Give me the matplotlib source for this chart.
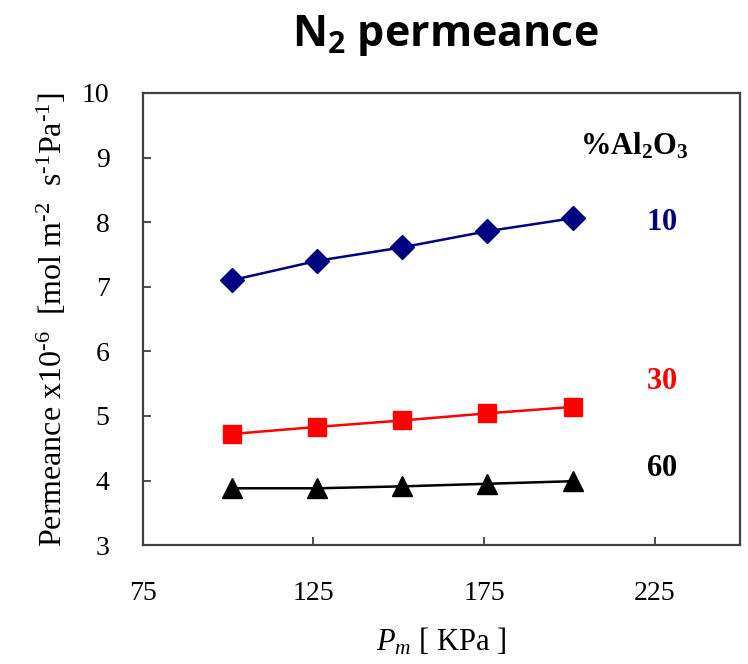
import matplotlib
matplotlib.use("Agg")
import matplotlib.pyplot as plt

plt.rcParams['font.family'] = ['Liberation Serif', 'DejaVu Serif']
plt.rcParams['mathtext.fontset'] = 'custom'
plt.rcParams['mathtext.rm'] = 'Liberation Serif'
plt.rcParams['mathtext.it'] = 'Liberation Serif:italic'
plt.rcParams['mathtext.bf'] = 'Liberation Serif:bold'
plt.rcParams['mathtext.sf'] = 'Open Sans:bold'

pressure = [101, 126, 151, 176, 201]
al10 = [7.10, 7.40, 7.61, 7.86, 8.06]
al30 = [4.72, 4.83, 4.93, 5.04, 5.14]
al60 = [3.88, 3.88, 3.91, 3.95, 3.99]
series_labels = ['10', '30', '60']
xticks = [75, 125, 175, 225]
yticks = [3, 4, 5, 6, 7, 8, 9, 10]

fig = plt.figure(figsize=(7.48, 6.64), dpi=100)
ax = fig.add_axes([0.191, 0.179, 0.798, 0.681])

ax.plot(pressure, al10, color='#000080', marker='D', ms=12, lw=1.8)
ax.plot(pressure, al30, color='#FF0000', marker='s', ms=13.5, lw=1.8)
ax.plot(pressure, al60, color='black', marker='^', ms=14, lw=1.8)

ax.set_xlim(75, 250)
ax.set_ylim(3, 10)
ax.set_xticks(xticks)
ax.set_yticks(yticks)
ax.tick_params(direction='in', length=6, width=1.3, color='#404040', labelsize=20)
ax.tick_params(axis='x', pad=26)
ax.tick_params(axis='y', pad=24)
for s in ax.spines.values():
    s.set_color('#404040')
    s.set_linewidth(1.6)

ax.text(219, 9.17, r'%Al$\mathbf{_2}$O$\mathbf{_3}$', fontsize=22, fontweight='bold',
        ha='center', va='center')
ax.text(227, 8.0, r'$\mathbf{10}$', fontsize=22, color='#000080', ha='center', va='center')
ax.text(227, 5.53, r'$\mathbf{30}$', fontsize=22, color='#FF0000', ha='center', va='center')
ax.text(227, 4.19, r'$\mathbf{60}$', fontsize=22, color='black', ha='center', va='center')

ax.set_ylabel(r'Permeance x10$^{\text{-6}}$  [mol m$^{\text{-2}}$  s$^{\text{-1}}$Pa$^{\text{-1}}$]',
              fontsize=23, labelpad=9)
ax.set_xlabel(r'$P_{m}$ [ KPa ]', fontsize=22, labelpad=14)

fig.text(0.595, 0.947, r'$\mathsf{N_2}$ permeance', fontsize=31, fontfamily='Open Sans',
         fontweight='bold', ha='center', va='center')

fig.savefig('out.png', dpi=100)
